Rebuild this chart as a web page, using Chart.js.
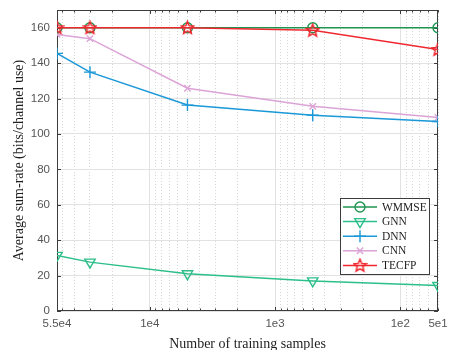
<!DOCTYPE html>
<html>
<head>
<meta charset="utf-8">
<script src="https://cdn.jsdelivr.net/npm/chart.js@4.4.1/dist/chart.umd.min.js"></script>
<style>
  html, body { margin: 0; padding: 0; background: #fff; }
</style>
</head>
<body>
<canvas id="chart" width="455" height="350"></canvas>
<script>
// number of training samples (x) and sum-rate per method
const samples = [55000, 30000, 5000, 500, 50];
const wmmse = [160, 160, 160, 160, 160];
const gnn = [31.4, 27.6, 21.0, 17.0, 14.4];
const dnn = [145.5, 134.9, 116.3, 110.6, 107.0];
const cnn = [156.2, 153.8, 125.8, 115.6, 109.3];
const tecfp = [160, 160, 160, 158.5, 147.7];

const xTickValues = [55000, 10000, 1000, 100, 50];
const xTickLabels = ['5.5e4', '1e4', '1e3', '1e2', '5e1'];
const yTickValues = [0, 20, 40, 60, 80, 100, 120, 140, 160];

const serif = "'Liberation Serif', 'Times New Roman', serif";
const sans = "'Liberation Sans', Arial, sans-serif";

// log grid positions (every 1..9 inside each decade)
let logTicks = [];
for (let d = 10; d <= 10000; d *= 10) {
    for (let m = 1; m <= 9; m++) {
        let v = d * m;
        if (v >= 50 && v <= 55000) logTicks.push(v);
    }
}
logTicks.push(55000);
const isMajor = v => v === 10 || v === 100 || v === 1000 || v === 10000;

function makeStar(color) {
    let c = document.createElement('canvas');
    c.width = 15; c.height = 15;
    let g = c.getContext('2d');
    g.strokeStyle = color;
    g.lineWidth = 1.5;
    g.beginPath();
    for (let i = 0; i < 10; i++) {
        let r = i % 2 ? 2.9 : 6.6;
        let a = -Math.PI / 2 + i * Math.PI / 5;
        let px = 7.5 + r * Math.cos(a), py = 7.9 + r * Math.sin(a);
        if (i) g.lineTo(px, py); else g.moveTo(px, py);
    }
    g.closePath();
    g.stroke();
    return c;
}

const toXY = arr => arr.map((y, i) => ({x: samples[i], y: y}));

function series(label, data, color, style, radius, extra) {
    return Object.assign({
        label: label,
        data: toXY(data),
        borderColor: color,
        backgroundColor: color,
        pointBorderColor: color,
        pointBackgroundColor: 'rgba(0,0,0,0)',
        pointStyle: style,
        pointRadius: radius,
        pointHoverRadius: radius,
        pointBorderWidth: 1.4,
        borderWidth: 1.5,
        tension: 0,
        order: 1
    }, extra || {});
}

const frame = {
    id: 'frame',
    beforeDatasetsDraw(chart) {
        const {ctx, chartArea: a, scales} = chart;
        ctx.save();
        ctx.strokeStyle = '#3c3c3c';
        ctx.lineWidth = 1;
        ctx.strokeRect(a.left + 0.5, a.top + 0.5, a.right - a.left - 1, a.bottom - a.top - 1);
        ctx.beginPath();
        yTickValues.forEach(v => {
            let y = Math.round(scales.y.getPixelForValue(v)) + 0.5;
            ctx.moveTo(a.left, y); ctx.lineTo(a.left + 4, y);
            ctx.moveTo(a.right, y); ctx.lineTo(a.right - 4, y);
        });
        logTicks.forEach(v => {
            let x = Math.round(scales.x.getPixelForValue(v)) + 0.5;
            let len = isMajor(v) ? 4 : 2.5;
            ctx.moveTo(x, a.bottom); ctx.lineTo(x, a.bottom - len);
            ctx.moveTo(x, a.top); ctx.lineTo(x, a.top + len);
        });
        ctx.stroke();
        ctx.restore();
    }
};

const boxLegend = {
    id: 'boxLegend',
    afterDraw(chart) {
        const ctx = chart.ctx;
        const x0 = 340, y0 = 198, w = 89, h = 76;
        ctx.save();
        ctx.fillStyle = '#fff';
        ctx.fillRect(x0, y0, w, h);
        ctx.strokeStyle = '#3c3c3c';
        ctx.lineWidth = 1;
        ctx.strokeRect(x0 + 0.5, y0 + 0.5, w, h);
        chart.data.datasets.forEach((ds, i) => {
            let y = y0 + 9 + i * 14.6;
            ctx.strokeStyle = ds.borderColor;
            ctx.lineWidth = 1.5;
            ctx.beginPath();
            ctx.moveTo(x0 + 3, y); ctx.lineTo(x0 + 37, y);
            ctx.stroke();
            ctx.fillStyle = 'rgba(0,0,0,0)';
            ctx.lineWidth = 1.4;
            Chart.helpers.drawPoint(ctx, {
                pointStyle: ds.pointStyle, radius: ds.pointRadius,
                rotation: ds.pointRotation || 0, borderWidth: 1.4
            }, x0 + 20, y);
            ctx.fillStyle = '#1e1e1e';
            ctx.font = '11.5px ' + serif;
            ctx.textBaseline = 'middle';
            ctx.fillText(ds.label, x0 + 42, y + 0.5);
        });
        ctx.restore();
    }
};

new Chart(document.getElementById('chart').getContext('2d'), {
    type: 'line',
    data: {
        datasets: [
            series('WMMSE', wmmse, '#1f9650', 'circle', 5),
            series('GNN', gnn, '#2cbf8a', 'triangle', 6, {pointRotation: 180}),
            series('DNN', dnn, '#1a98d8', 'cross', 6),
            series('CNN', cnn, '#dca3d6', 'crossRot', 4.5),
            series('TECFP', tecfp, '#f0272f', makeStar('#f0272f'), 7, {order: 0})
        ]
    },
    options: {
        responsive: false,
        animation: false,
        devicePixelRatio: 1,
        layout: {padding: {top: 10, right: 17, left: 0, bottom: 0}},
        plugins: {
            legend: {display: false},
            tooltip: {enabled: false}
        },
        scales: {
            x: {
                type: 'logarithmic',
                reverse: true,
                min: 50,
                max: 55000,
                afterBuildTicks: s => { s.ticks = logTicks.map(v => ({value: v})); },
                afterFit: s => { s.height = 39; s.paddingLeft = 0; s.paddingRight = 0; },
                ticks: {
                    autoSkip: false,
                    maxRotation: 0,
                    padding: 6,
                    color: '#555',
                    font: {family: sans, size: 11.5},
                    callback: v => {
                        let k = xTickValues.indexOf(v);
                        return k >= 0 ? xTickLabels[k] : '';
                    }
                },
                grid: {
                    drawTicks: false,
                    color: c => isMajor(c.tick.value) ? '#e2e2e2' : '#d6d6d6'
                },
                border: {
                    display: false,
                    dash: c => (c.tick && isMajor(c.tick.value)) ? [] : [1, 2]
                },
                title: {
                    display: true,
                    text: 'Number of training samples',
                    color: '#1e1e1e',
                    font: {family: serif, size: 14},
                    padding: {top: 0, bottom: -3}
                }
            },
            y: {
                min: 0,
                max: 170,
                afterBuildTicks: s => { s.ticks = yTickValues.map(v => ({value: v})); },
                afterFit: s => { s.width = 57; s.paddingTop = 0; s.paddingBottom = 0; },
                ticks: {
                    padding: 7,
                    color: '#555',
                    font: {family: sans, size: 11.5}
                },
                grid: {drawTicks: false, color: '#e2e2e2'},
                border: {display: false},
                title: {
                    display: true,
                    text: 'Average sum-rate (bits/channel use)',
                    color: '#1e1e1e',
                    font: {family: serif, size: 14},
                    padding: {top: 11, bottom: 0}
                }
            }
        }
    },
    plugins: [frame, boxLegend]
});
</script>
</body>
</html>
